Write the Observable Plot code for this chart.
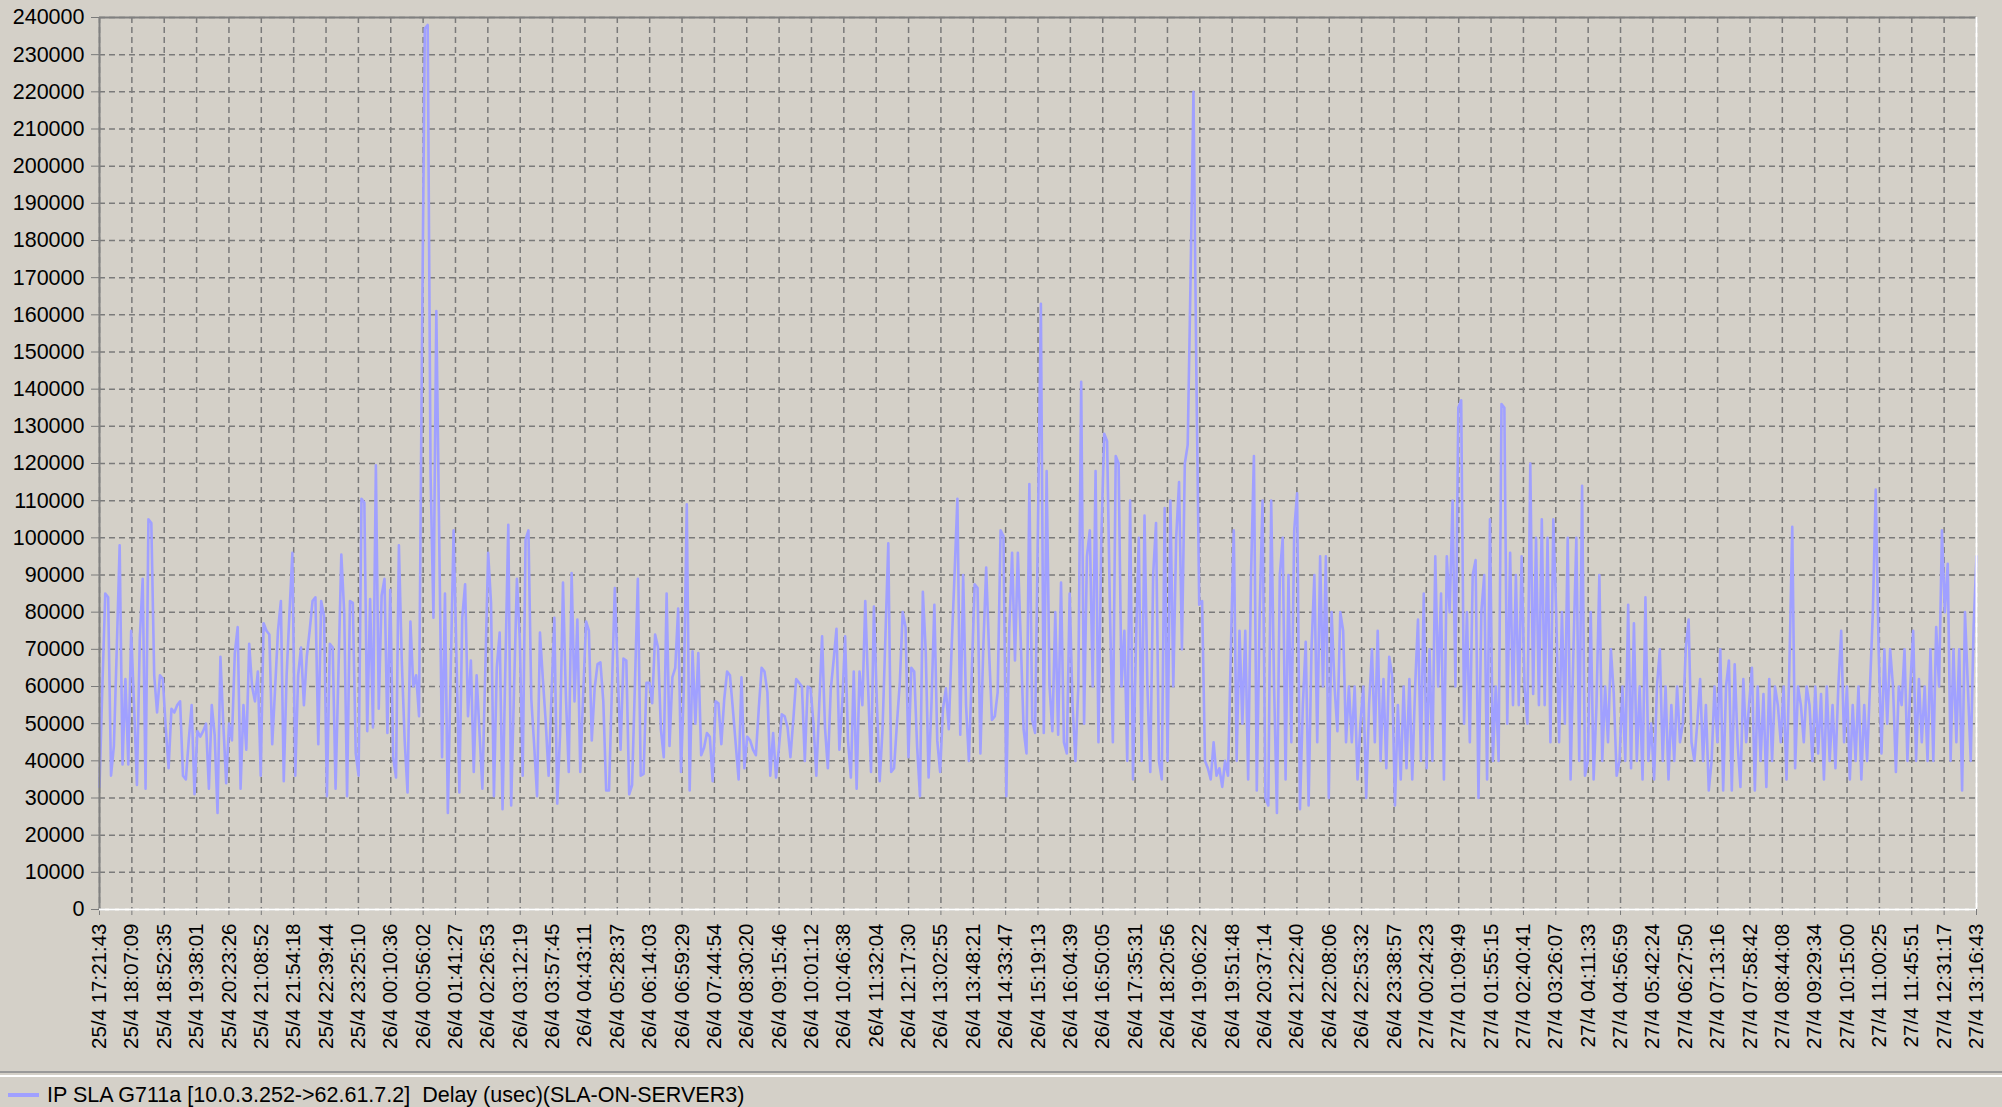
<!DOCTYPE html>
<html><head><meta charset="utf-8">
<script src="https://cdn.jsdelivr.net/npm/d3@7"></script>
<script src="https://cdn.jsdelivr.net/npm/@observablehq/plot@0.6"></script>
<style>
html,body{margin:0;padding:0;background:#d4d0c8;width:2002px;height:1107px;overflow:hidden;font-family:"Liberation Sans",Arial,sans-serif;}
#chart{position:absolute;left:0;top:0;}
#chart svg{display:block;}
#sep{position:absolute;left:0;top:1071px;width:2002px;height:2px;border-top:2px solid #999;border-bottom:2px solid #fff;}
#legend{position:absolute;left:0;top:1083px;height:24px;font-size:21.5px;line-height:24px;color:#000;white-space:pre;}
#legend .sw{position:absolute;left:8px;top:10px;width:31px;height:4px;background:#a0a0ff;}
#legend .tx{position:absolute;left:47px;top:0;}
</style></head><body>
<div id="chart"></div>
<div id="sep"></div>
<div id="legend"><span class="sw"></span><span class="tx" id="legendText"></span></div>
<script>
const seriesName = "IP SLA G711a [10.0.3.252->62.61.7.2]  Delay (usec)(SLA-ON-SERVER3)";
const startTime = "25/4 17:21:43";
const endTime = "27/4 13:16:43";
const tickLabels = [
"25/4 17:21:43","25/4 18:07:09","25/4 18:52:35","25/4 19:38:01","25/4 20:23:26","25/4 21:08:52","25/4 21:54:18","25/4 22:39:44","25/4 23:25:10",
"26/4 00:10:36","26/4 00:56:02","26/4 01:41:27","26/4 02:26:53","26/4 03:12:19","26/4 03:57:45","26/4 04:43:11","26/4 05:28:37","26/4 06:14:03","26/4 06:59:29","26/4 07:44:54","26/4 08:30:20","26/4 09:15:46","26/4 10:01:12","26/4 10:46:38","26/4 11:32:04","26/4 12:17:30","26/4 13:02:55","26/4 13:48:21","26/4 14:33:47","26/4 15:19:13","26/4 16:04:39","26/4 16:50:05","26/4 17:35:31","26/4 18:20:56","26/4 19:06:22","26/4 19:51:48","26/4 20:37:14","26/4 21:22:40","26/4 22:08:06","26/4 22:53:32","26/4 23:38:57",
"27/4 00:24:23","27/4 01:09:49","27/4 01:55:15","27/4 02:40:41","27/4 03:26:07","27/4 04:11:33","27/4 04:56:59","27/4 05:42:24","27/4 06:27:50","27/4 07:13:16","27/4 07:58:42","27/4 08:44:08","27/4 09:29:34","27/4 10:15:00","27/4 11:00:25","27/4 11:45:51","27/4 12:31:17","27/4 13:16:43"
];
const yTickValues = [0,10000,20000,30000,40000,50000,60000,70000,80000,90000,100000,110000,120000,130000,140000,150000,160000,170000,180000,190000,200000,210000,220000,230000,240000];
const delayValues = [
33000,60000,85000,84000,36000,44000,70000,98000,39000,62000,39000,75000,55000,33500,73000,89000,32500,105000,104000,63000,53000,63000,62000,49000,38000,54000,53000,55000,56000,36000,35000,45500,55000,31000,48000,46500,48000,50000,32500,55000,47000,26000,68000,50000,34000,50000,45500,69000,76000,32500,55000,43000,71500,60000,56000,64000,
36000,77000,75000,74000,44500,59500,75000,83000,34500,63000,80000,96000,36000,63000,70500,55000,68000,75000,83000,84000,44500,83000,79000,30500,71500,70500,32500,64000,95500,80000,30500,83000,82500,42000,36000,110500,109500,48000,83500,49000,119500,54000,84500,89000,47500,86000,41000,35500,98000,67000,45500,31500,77500,60000,
63000,52000,150000,237000,238000,117000,78500,161000,100000,41000,85000,26000,64000,102000,68000,31500,78500,87500,52000,67000,37000,63000,47500,32500,64000,96000,82500,30500,65000,74500,27000,66000,103500,28000,59500,89000,72500,36000,99500,102000,56500,44000,30500,74500,62000,50500,36000,57500,78500,28500,47500,88000,57500,37000,90500,56000,
78000,37000,57500,77500,75000,45500,59500,66000,66500,56000,32000,32000,59500,86500,64000,43000,67500,67000,31000,33500,61000,89000,36000,36500,61000,61000,55500,74000,70500,48500,41000,85000,44000,62500,65000,81000,37000,60000,109000,32000,69500,50000,69000,41500,43500,47500,46500,34500,56000,55500,44500,56500,64000,63000,
54000,44500,35000,62500,38000,46500,45500,43000,41500,54000,65000,64000,58500,36000,47500,35500,43500,52500,52000,49000,41000,51000,62000,61000,60000,40000,60000,59500,50000,36000,55000,73500,49000,38000,59000,67000,75500,43000,55500,73500,45500,35500,64000,32500,64000,55000,83000,59500,37000,81500,56500,34500,48500,73500,98500,
37000,38000,50000,61000,80000,76000,41000,65000,64000,44000,30500,85500,69500,35500,55500,82000,45500,37000,54000,59500,48500,70500,90000,110500,47000,90000,55000,40000,64000,87500,86500,42000,70500,92000,69500,51000,52000,58500,102000,100500,30500,75000,96000,67000,96000,72500,48500,42000,114500,51000,47500,104000,163000,47500,
118000,60000,48000,80000,47000,88000,45000,42000,85000,
55000,40000,60000,142000,50000,95000,102000,60000,118000,45000,100000,
128000,126000,80000,45000,122000,120000,60000,75000,40000,110000,35000,
70000,100000,40000,106000,60000,37000,90000,104000,40000,35000,108000,
40000,110000,60000,100000,115000,70000,120000,125000,170000,220000,145000,
82000,83000,40000,38000,35000,45000,36000,38000,33000,40000,36000,70000,102000,
40000,75000,50000,75000,35000,90000,122000,32000,80000,110000,30000,
28000,110000,60000,26000,90000,100000,35000,90000,45000,102000,112000,
27000,55000,72000,28000,70000,90000,45000,95000,60000,95000,30000,
80000,60000,48000,80000,75000,45000,60000,45000,60000,35000,50000,
60000,30000,55000,70000,45000,75000,40000,62000,38000,68000,63000,28000,
55000,35000,60000,38000,62000,35000,60000,78000,40000,85000,38000,
70000,40000,95000,60000,85000,35000,95000,80000,110000,60000,135000,137000,
50000,80000,45000,90000,94000,30000,80000,90000,35000,105000,40000,
60000,40000,136000,135000,50000,96000,55000,90000,55000,95000,60000,
50000,120000,58000,100000,55000,105000,55000,100000,45000,105000,80000,
45000,80000,50000,100000,35000,70000,100000,40000,114000,36000,40000,
80000,35000,55000,90000,40000,60000,45000,70000,58000,36000,40000,
60000,40000,82000,38000,77000,40000,60000,35000,84000,40000,50000,
35000,60000,70000,40000,60000,35000,55000,40000,60000,45000,50000,
70000,78000,45000,40000,50000,62000,40000,55000,32000,40000,60000,45000,
70000,32000,60000,67000,32000,66000,45000,33000,62000,45000,55000,
65000,32000,60000,40000,58000,33000,62000,40000,60000,55000,45000,
60000,35000,65000,103000,38000,60000,55000,45000,60000,55000,40000,
60000,42000,58000,35000,60000,40000,55000,38000,60000,75000,45000,60000,
35000,55000,40000,60000,35000,55000,40000,60000,80000,113000,70000,42000,
70000,50000,70000,60000,37000,60000,55000,70000,40000,60000,75000,
40000,62000,45000,60000,40000,70000,40000,76000,60000,102000,80000,
93000,40000,70000,45000,70000,32000,80000,60000,40000,76000,95000
];

const parse = d3.utcParse("%d/%m %H:%M:%S");
const t0 = parse(startTime), t1 = parse(endTime);
const n = delayValues.length;
const data = delayValues.map((v, i) => ({t: new Date(+t0 + (t1 - t0) * i / (n - 1)), v}));
const tickDates = tickLabels.map(parse);
const hms = d3.utcFormat("%H:%M:%S");
const fmtX = d => `${d.getUTCDate()}/${d.getUTCMonth() + 1} ${hms(d)}`;

const grid = {stroke: "#7a7a7a", strokeOpacity: 1, strokeWidth: 1.5, strokeDasharray: "6,4"};
const plot = Plot.plot({
  width: 2002, height: 1068,
  marginTop: 17, marginLeft: 99, marginRight: 26, marginBottom: 159,
  style: {background: "#d4d0c8", fontFamily: "'Liberation Sans', Arial, sans-serif", fontSize: "20px", color: "#000", overflow: "visible"},
  x: {type: "utc", domain: [t0, t1], label: null},
  y: {domain: [0, 240000], label: null},
  marks: [
    Plot.gridY(yTickValues, grid),
    Plot.gridX(tickDates, grid),
    Plot.axisY(yTickValues, {tickFormat: d3.format("d"), tickSize: 8, tickPadding: 7, stroke: "#7a7a7a", fill: "#000", fontSize: 21.5, label: null}),
    Plot.axisX(tickDates, {tickRotate: -90, tickFormat: fmtX, tickSize: 6, tickPadding: 8, stroke: "#7a7a7a", fill: "#000", fontSize: 20.5, label: null}),
    Plot.line(data, {x: "t", y: "v", stroke: "#a0a0ff", strokeWidth: 2.6}),
    Plot.ruleX([t0], {stroke: "#808080", strokeWidth: 2}),
    Plot.ruleY([240000], {stroke: "#808080", strokeWidth: 2}),
    Plot.ruleY([0], {stroke: "#ffffff", strokeWidth: 2}),
    Plot.ruleX([t1], {stroke: "#ffffff", strokeWidth: 2})
  ]
});
document.getElementById("chart").appendChild(plot);
document.getElementById("legendText").textContent = seriesName;
</script>
</body></html>
